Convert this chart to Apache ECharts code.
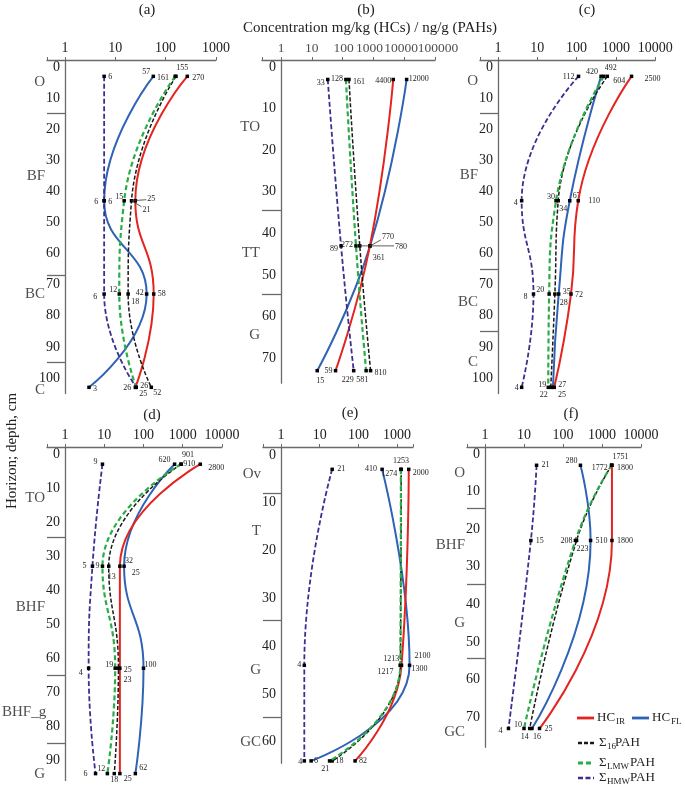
<!DOCTYPE html>
<html><head><meta charset="utf-8">
<script src="https://cdn.jsdelivr.net/npm/echarts@6/dist/echarts.min.js"></script>
<style>html,body{margin:0;padding:0;background:#fff}#c{width:685px;height:789px}</style>
</head><body><div id="c"></div>
<script>
// ---------------- DATA ----------------
// (a)
const depthsA = [3, 43, 73, 103];
const hcirA  = [270, 25, 58, 25];
const hcflA  = [57, 6, 42, 3];
const pah16A = [161, 21, 18, 52];
const lmwA   = [155, 15, 12, 26];
const hmwA   = [6, 6, 6, 26];
const horizonsA = ['O', 'BF', 'BC', 'C'];
const horizonDepthsA = [5, 35, 73, 104];
const boundariesA = [15, 67, 95];
// (b)
const depthsB = [3, 43, 73];
const hcirB  = [4400, 770, 59];
const hcflB  = [12000, 780, 15];
const pah16B = [161, 361, 810];
const lmwB   = [128, 272, 581];
const hmwB   = [33, 89, 229];
const horizonsB = ['TO', 'TT', 'G'];
const horizonDepthsB = [14.4, 44.7, 64.5];
const boundariesB = [34.4, 54.6];
const tickLabelsB = [1, 10, 100, 1000, 10000, 100000];
// (c)
const depthsC = [3, 43, 73, 103];
const hcirC  = [2500, 110, 72, 27];
const hcflC  = [420, 67, 35, 25];
const pah16C = [604, 34, 28, 22];
const lmwC   = [492, 30, 20, 19];
const hmwC   = [112, 4, 8, 4];
const horizonsC = ['O', 'BF', 'BC', 'C'];
const horizonDepthsC = [4.5, 34.7, 75.6, 94.9];
const boundariesC = [15, 65, 85];
// (d)
const depthsD = [3, 33, 63, 94];
const hcirD  = [2800, 25, 25, 25];
const hcflD  = [620, 32, 100, 62];
const pah16D = [910, 13, 23, 18];
const lmwD   = [901, 9, 19, 12];
const hmwD   = [9, 5, 4, 6];
const horizonsD = ['TO', 'BHF', 'BHF_g', 'G'];
const horizonDepthsD = [13, 45, 76, 94];
const boundariesD = [24.4, 65, 85];
// (e)
const depthsE = [3, 44, 64];
const hcirE  = [2000, 1300, 82];
const hcflE  = [410, 2100, 6];
const pah16E = [1274, 1217, 21];
const lmwE   = [1253, 1213, 18];
const hmwE   = [21, 4, 4];
const horizonsE = ['Ov', 'T', 'G', 'GC'];
const horizonDepthsE = [4, 16, 45, 60];
const boundariesE = [8, 34.5, 54.8];
// (f)
const depthsF = [3, 23, 73];
const hcirF  = [1800, 1800, 25];
const hcflF  = [280, 510, 16];
const pah16F = [1772, 223, 14];
const lmwF   = [1751, 208, 10];
const hmwF   = [21, 15, 4];
const horizonsF = ['O', 'BHF', 'G', 'GC'];
const horizonDepthsF = [5, 24.2, 45, 74];
const boundariesF = [14.4, 34.6, 54.3];

// ---------------- STYLE / LAYOUT ----------------
const FONT = '"Liberation Serif", "Times New Roman", serif';
const TXT = '#222';
const AXC = '#6a6a6a';

const SER = [
  {key: 'hcfl',  color: '#2f63b5', width: 2,   type: 'solid'},
  {key: 'hcir',  color: '#e3241f', width: 2,   type: 'solid'},
  {key: 'pah16', color: '#1a1a1a', width: 1.5, type: [4, 2]},
  {key: 'lmw',   color: '#2aad47', width: 2.2, type: [5, 3]},
  {key: 'hmw',   color: '#3b2f8f', width: 1.8, type: [5, 2.5]}
];

// label placements [dx, dy, align]
const labA = {
  hcir: [[5,2,'l'],[12,-2,'l'],[4,0,'l'],[4,7,'l']],
  hcfl: [[-3,-4,'r'],[4,1,'l'],[-3,-1,'r'],[4,2,'l']],
  pah16: [[-7,2,'r'],[11,9,'l'],[3,8,'l'],[2,6,'l']],
  lmw: [[1,-8,'l'],[-1,-4,'r'],[-2,-4,'r'],[4,-1,'l']],
  hmw: [[4,1,'l'],[-6,1,'r'],[-7,3,'r'],[-5,1,'r']]
};
const labB = {
  hcir: [[-2,1,'r'],[12,-9,'l'],[-3,0,'r']],
  hcfl: [[2,-1,'l'],[25,1,'l'],[3,10,'c']],
  pah16: [[4,2,'l'],[13,12,'l'],[4,2,'l']],
  lmw: [[-3,-1,'r'],[-3,-1,'r'],[-4,9,'c']],
  hmw: [[-3,3,'r'],[-3,3,'r'],[-6,9,'c']]
};
const labC = {
  hcir: [[13,3,'l'],[10,0,'l'],[4,1,'l'],[4,-2,'l']],
  hcfl: [[-3,-4,'r'],[3,-5,'l'],[4,-2,'l'],[5,8,'l']],
  pah16: [[6,5,'l'],[1,8,'l'],[5,9,'l'],[-3,8,'r']],
  lmw: [[1,-8,'l'],[-1,-4,'r'],[-5,-4,'r'],[-2,-2,'r']],
  hmw: [[-4,1,'r'],[-4,2,'r'],[-6,3,'r'],[-3,1,'r']]
};
const labD = {
  hcir: [[8,4,'l'],[12,7,'l'],[4,2,'l'],[4,5,'l']],
  hcfl: [[-4,-4,'r'],[1,-5,'l'],[1,-3,'l'],[4,-6,'l']],
  pah16: [[2,0,'l'],[-1,11,'l'],[5,12,'l'],[0,6,'c']],
  lmw: [[1,-9,'l'],[-3,0,'r'],[-2,-3,'r'],[-2,-5,'r']],
  hmw: [[-5,-2,'r'],[-6,0,'r'],[-6,5,'r'],[-8,0,'r']]
};
const labE = {
  hcir: [[4,4,'l'],[10,4,'l'],[4,0,'l']],
  hcfl: [[-5,0,'r'],[5,-9,'l'],[3,0,'l']],
  pah16: [[-4,5,'r'],[-7,7,'r'],[-7,8,'c']],
  lmw: [[0,-8,'c'],[-1,-6,'r'],[6,0,'l']],
  hmw: [[5,0,'l'],[-3,0,'r'],[-2,1,'r']]
};
const labF = {
  hcir: [[5,3,'l'],[5,0,'l'],[5,0,'l']],
  hcfl: [[-3,-4,'r'],[5,0,'l'],[1,8,'l']],
  pah16: [[-4,3,'r'],[0,8,'l'],[-1,8,'r']],
  lmw: [[1,-8,'l'],[-3,0,'r'],[-2,-4,'r']],
  hmw: [[5,0,'l'],[5,0,'l'],[-6,2,'r']]
};

const panels = [
  {letter: '(a)', lp: [147, 10], depths: depthsA, vals: {hcir: hcirA, hcfl: hcflA, pah16: pah16A, lmw: lmwA, hmw: hmwA},
   hz: horizonsA, hzd: horizonDepthsA, bd: boundariesA, lab: labA,
   leaders: [['pah16', 1, 'hcir', 11, -1], ['pah16', 1, 'pah16', 10, 6]],
   L: {x1: 65, dec: 50.3, maxExp: 3, ext: 18, axisY: 60, y0: 67, ppc: 3.11, yMax: 105}},
  {letter: '(b)', lp: [366, 10], depths: depthsB, vals: {hcir: hcirB, hcfl: hcflB, pah16: pah16B, lmw: lmwB, hmw: hmwB},
   hz: horizonsB, hzd: horizonDepthsB, bd: boundariesB, lab: labB,
   ticks: tickLabelsB, tickDx: [0, 0, 1, -4, -3, 3],
   leaders: [['pah16', 1, 'hcfl', 24, 0], ['hcfl', 1, 'hcir', 11, -6]],
   L: {x1: 281, dec: 30.8, maxExp: 5, ext: 19, axisY: 60, y0: 67, ppc: 4.16, yMax: 76}},
  {letter: '(c)', lp: [587, 10], depths: depthsC, vals: {hcir: hcirC, hcfl: hcflC, pah16: pah16C, lmw: lmwC, hmw: hmwC},
   hz: horizonsC, hzd: horizonDepthsC, bd: boundariesC, lab: labC,
   L: {x1: 498, dec: 39.3, maxExp: 4, ext: 18, axisY: 60, y0: 67, ppc: 3.11, yMax: 105}},
  {letter: '(d)', lp: [152, 415], depths: depthsD, vals: {hcir: hcirD, hcfl: hcflD, pah16: pah16D, lmw: lmwD, hmw: hmwD},
   hz: horizonsD, hzd: horizonDepthsD, bd: boundariesD, lab: labD, hzOverride: {'BHF_g': {align: 'left', dx: -45}},
   L: {x1: 65, dec: 39.25, maxExp: 4, ext: 18, axisY: 447, y0: 454, ppc: 3.4, yMax: 96}},
  {letter: '(e)', lp: [350, 413], depths: depthsE, vals: {hcir: hcirE, hcfl: hcflE, pah16: pah16E, lmw: lmwE, hmw: hmwE},
   hz: horizonsE, hzd: horizonDepthsE, bd: boundariesE, lab: labE,
   L: {x1: 281, dec: 38.7, maxExp: 3.41, ext: 18, axisY: 447, y0: 455, ppc: 4.78, yMax: 64.5}},
  {letter: '(f)', lp: [571, 414], depths: depthsF, vals: {hcir: hcirF, hcfl: hcflF, pah16: pah16F, lmw: lmwF, hmw: hmwF},
   hz: horizonsF, hzd: horizonDepthsF, bd: boundariesF, lab: labF,
   L: {x1: 485, dec: 39, maxExp: 4, ext: 18, axisY: 447, y0: 454, ppc: 3.76, yMax: 78}}
];

// ---------------- BUILD ----------------
const logFmt = v => {
  const l = Math.log10(v);
  return (Math.abs(l - Math.round(l)) < 1e-6 && l > -0.01) ? String(Math.round(v)) : '';
};
const depthFmt = v => (Math.abs(v % 10) < 1e-9 && v >= 0) ? String(Math.round(v)) : '';

const grids = [], xAxes = [], yAxes = [], series = [], graphics = [];

panels.forEach((p, i) => {
  const L = p.L;
  const xmin = Math.pow(10, -L.ext / L.dec);
  const xmax = Math.pow(10, L.maxExp);
  const yMin = -(L.y0 - L.axisY) / L.ppc;
  grids.push({left: L.x1 - L.ext, top: L.axisY, width: L.ext + L.dec * L.maxExp,
              height: (L.yMax - yMin) * L.ppc, containLabel: false, outerBoundsMode: 'none'});
  xAxes.push({type: 'log', logBase: 10, gridIndex: i, position: 'top', min: xmin, max: xmax,
    axisLine: {show: true, onZero: false, lineStyle: {color: AXC, width: 1.3}},
    axisTick: {show: true, length: 3, lineStyle: {color: AXC, width: 1}},
    minorTick: {show: false}, splitLine: {show: false},
    axisLabel: {show: !p.ticks, formatter: logFmt, fontSize: 14, fontFamily: FONT, color: TXT, margin: 5,
                showMinLabel: true, showMaxLabel: true, hideOverlap: false}});
  yAxes.push({type: 'value', gridIndex: i, inverse: true, min: yMin, max: L.yMax,
    minInterval: 10, maxInterval: 10, position: 'left', offset: -L.ext,
    axisLine: {show: true, onZero: false, lineStyle: {color: AXC, width: 1.3}},
    axisTick: {show: false}, splitLine: {show: false},
    axisLabel: {formatter: depthFmt, fontSize: 14, fontFamily: FONT, color: TXT, margin: 5,
                showMinLabel: true, showMaxLabel: true}});

  // densely packed tick labels drawn as text at their tick values (avoids overlap hiding)
  if (p.ticks) {
    series.push({type: 'scatter', xAxisIndex: i, yAxisIndex: i, silent: true, symbolSize: 1,
      itemStyle: {color: 'rgba(0,0,0,0)'}, clip: false, z: 1,
      data: p.ticks.map((t, j) => ({value: [t, yMin],
        label: {show: true, position: 'inside', formatter: String(t), align: 'center', verticalAlign: 'bottom',
                offset: [p.tickDx[j], -5], fontSize: 13.5, fontFamily: FONT, color: TXT}}))
    });
  }

  // horizon labels + boundary ticks
  series.push({type: 'scatter', xAxisIndex: i, yAxisIndex: i, silent: true, symbolSize: 1,
    itemStyle: {color: 'rgba(0,0,0,0)'}, clip: false, z: 1,
    data: p.hz.map((h, j) => {
      const ov = (p.hzOverride && p.hzOverride[h]) || {align: 'right', dx: -2};
      return {name: h, value: [xmin, p.hzd[j]],
        label: {show: true, position: 'inside', formatter: '{b}', align: ov.align, verticalAlign: 'middle',
                offset: [ov.dx, 0], fontSize: 15, fontFamily: FONT, color: TXT}};
    }),
    markLine: {silent: true, symbol: ['none', 'none'], animation: false, label: {show: false},
      lineStyle: {color: AXC, width: 1.3, type: 'solid'},
      data: p.bd.map(d => [{coord: [xmin, d]}, {coord: [1, d]}])}
  });

  SER.forEach((s, k) => {
    const vals = p.vals[s.key];
    const lab = p.lab[s.key];
    series.push({type: 'line', xAxisIndex: i, yAxisIndex: i, smooth: 0.5, silent: true, clip: false,
      z: 2 + k, symbol: 'rect', symbolSize: 3.5, showSymbol: true, showAllSymbol: true,
      itemStyle: {color: '#000'},
      lineStyle: {color: s.color, width: s.width, type: s.type},
      label: {show: true, fontSize: 8, fontFamily: FONT, color: TXT},
      data: p.depths.map((d, j) => {
        const l = lab[j];
        return {value: [vals[j], d],
          label: {show: true, position: 'inside', offset: [l[0], l[1]],
                  align: l[2] === 'l' ? 'left' : (l[2] === 'r' ? 'right' : 'center'),
                  verticalAlign: 'middle', formatter: String(vals[j])}};
      })
    });
  });

  graphics.push({type: 'text', x: p.lp[0], y: p.lp[1], silent: true,
    style: {text: p.letter, font: '15px ' + FONT, fill: TXT, align: 'center', verticalAlign: 'middle',
            textAlign: 'center', textVerticalAlign: 'middle'}});
});

// titles
graphics.push({type: 'text', x: 370, y: 28, silent: true,
  style: {text: 'Concentration mg/kg (HCs) / ng/g (PAHs)', font: '15px ' + FONT, fill: TXT,
          align: 'center', verticalAlign: 'middle', textAlign: 'center', textVerticalAlign: 'middle'}});
graphics.push({type: 'text', x: 12, y: 451, rotation: Math.PI / 2, silent: true,
  style: {text: 'Horizon; depth, cm', font: '15px ' + FONT, fill: TXT,
          align: 'center', verticalAlign: 'middle', textAlign: 'center', textVerticalAlign: 'middle'}});

// legend
const styleOf = k => SER.find(s => s.key === k);
const legendItems = [
  {key: 'hcir', x0: 577, x1: 594, y: 718, parts: [['HC', 597, 0, 13], ['IR', 616, 4, 9]]},
  {key: 'hcfl', x0: 632, x1: 649, y: 718, parts: [['HC', 652, 0, 13], ['FL', 671, 4, 9]]},
  {key: 'pah16', x0: 578, x1: 594, y: 743, parts: [['Σ', 599, 0, 13], ['16', 607, 4, 9], ['PAH', 615, 0, 13]]},
  {key: 'lmw', x0: 578, x1: 594, y: 763, parts: [['Σ', 599, 0, 13], ['LMW', 607, 4, 9], ['PAH', 630, 0, 13]]},
  {key: 'hmw', x0: 578, x1: 594, y: 778, parts: [['Σ', 599, 0, 13], ['HMW', 607, 4, 9], ['PAH', 630, 0, 13]]}
];
legendItems.forEach(it => {
  const s = styleOf(it.key);
  graphics.push({type: 'line', silent: true, shape: {x1: it.x0, y1: it.y, x2: it.x1, y2: it.y},
    style: {stroke: s.color, lineWidth: s.width + 0.8, lineDash: s.type === 'solid' ? null : s.type}});
  it.parts.forEach(pt => {
    graphics.push({type: 'text', x: pt[1], y: it.y + pt[2], silent: true,
      style: {text: pt[0], font: pt[3] + 'px ' + FONT, fill: TXT, align: 'left', verticalAlign: 'middle',
              textAlign: 'left', textVerticalAlign: 'middle'}});
  });
});

const chart = echarts.init(document.getElementById('c'), null, {renderer: 'canvas', width: 685, height: 789});
chart.setOption({
  animation: false,
  backgroundColor: '#fff',
  grid: grids, xAxis: xAxes, yAxis: yAxes, series: series,
  graphic: {elements: graphics}
});

// label leader lines, positioned through the chart's own scales
const leaders = [];
panels.forEach((p, i) => (p.leaders || []).forEach(ld => {
  const [fk, idx, tk, dx, dy] = ld;
  const a = chart.convertToPixel({gridIndex: i}, [p.vals[fk][idx], p.depths[idx]]);
  const b = chart.convertToPixel({gridIndex: i}, [p.vals[tk][idx], p.depths[idx]]);
  leaders.push({type: 'line', silent: true, z: 50,
    shape: {x1: a[0], y1: a[1], x2: b[0] + dx, y2: b[1] + dy},
    style: {stroke: '#333', lineWidth: 0.8}});
}));
chart.setOption({graphic: {elements: graphics.concat(leaders)}});
</script>
</body></html>
